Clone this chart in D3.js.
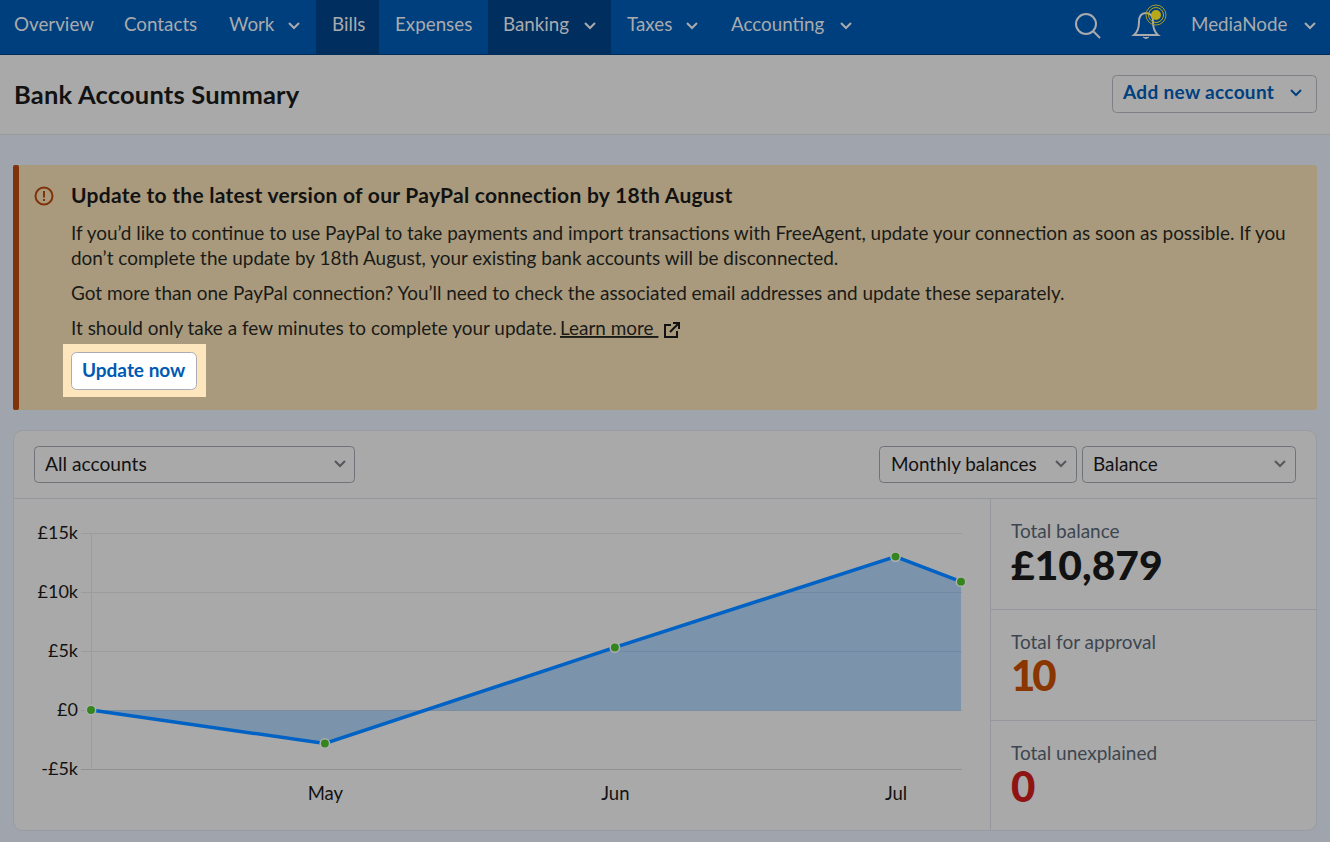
<!DOCTYPE html>
<html>
<head>
<meta charset="utf-8">
<script src="https://cdn.jsdelivr.net/npm/d3@7"></script>
<style>
  html, body { margin: 0; padding: 0; background: #a0a5ad; overflow: hidden; }
  svg { display: block; }
  text { font-family: Lato, sans-serif; white-space: pre; }
</style>
</head>
<body>
<script>
// chart data
var dates = ["2021-04-06", "2021-05-01", "2021-06-01", "2021-07-01", "2021-07-08"];
var balances = [0, -2840, 5300, 13000, 10879];
var yTicks = [-5000, 0, 5000, 10000, 15000];
var yTickLabels = ["-£5k", "£0", "£5k", "£10k", "£15k"];
var xTicks = ["2021-05-01", "2021-06-01", "2021-07-01"];
var xTickLabels = ["May", "Jun", "Jul"];

// page text
var navLabels = ["Overview", "Contacts", "Work", "Bills", "Expenses", "Banking", "Taxes", "Accounting"];
var bannerLines = [
  "If you’d like to continue to use PayPal to take payments and import transactions with FreeAgent, update your connection as soon as possible. If you",
  "don’t complete the update by 18th August, your existing bank accounts will be disconnected.",
  "Got more than one PayPal connection? You’ll need to check the associated email addresses and update these separately.",
  "It should only take a few minutes to complete your update."
];
var statLabels = ["Total balance", "Total for approval", "Total unexplained"];
var statValues = ["£10,879", "10", "0"];

var width = 1330, height = 842;
var parse = d3.utcParse("%Y-%m-%d");

var svg = d3.select("body").append("svg")
  .attr("width", width)
  .attr("height", height);

function rect(x, y, w, h, fill, r, stroke) {
  return svg.append("rect")
    .attr("x", x).attr("y", y).attr("width", w).attr("height", h)
    .attr("rx", r || 0)
    .attr("fill", fill)
    .attr("stroke", stroke || "none");
}
function label(x, y, s, size, fill, weight, anchor) {
  return svg.append("text")
    .attr("x", x).attr("y", y)
    .attr("font-size", size)
    .attr("font-weight", weight || 400)
    .attr("fill", fill)
    .attr("text-anchor", anchor || "start")
    .text(s);
}
function chevron(cx, cy, color, w) {
  svg.append("path")
    .attr("d", "M" + (cx - 5) + "," + (cy - 3) + "L" + cx + "," + (cy + 2) + "L" + (cx + 5) + "," + (cy - 3))
    .attr("fill", "none")
    .attr("stroke", color)
    .attr("stroke-width", w || 2);
}
function hline(x1, x2, y, color) {
  svg.append("line").attr("x1", x1).attr("x2", x2).attr("y1", y).attr("y2", y).attr("stroke", color);
}
function vline(x, y1, y2, color) {
  svg.append("line").attr("x1", x).attr("x2", x).attr("y1", y1).attr("y2", y2).attr("stroke", color);
}

// top nav
rect(0, 0, width, 55, "#003f7d");
rect(316, 0, 63, 55, "#002f5f");
rect(488, 0, 123, 55, "#002f5f");
hline(0, width, 54.5, "#002c58");
var navX = [14, 124, 229, 332, 395, 503, 627, 731];
var navChevron = [null, null, 294, null, null, 590, 692, 846];
var navText = "#a9abae";
navLabels.forEach(function(d, i) {
  label(navX[i], 31, d, 18.8, navText);
  if (navChevron[i]) chevron(navChevron[i], 26, navText);
});
label(1191, 31, "MediaNode", 18.8, navText);
chevron(1310, 26, navText);

// search icon
svg.append("circle").attr("cx", 1086).attr("cy", 24).attr("r", 10)
  .attr("fill", "none").attr("stroke", navText).attr("stroke-width", 2);
svg.append("line").attr("x1", 1093).attr("y1", 31).attr("x2", 1100).attr("y2", 38)
  .attr("stroke", navText).attr("stroke-width", 2);

// bell icon
svg.append("path")
  .attr("d", "M1134,35 Q1139,31 1139,22 Q1139,13 1146,13 Q1153,13 1153,22 Q1153,31 1158,35 Z")
  .attr("fill", "#003f7d").attr("stroke", navText).attr("stroke-width", 2);
svg.append("path").attr("d", "M1143,37 Q1146,40 1149,37").attr("fill", navText).attr("stroke", navText);
svg.append("circle").attr("cx", 1156).attr("cy", 15).attr("r", 5).attr("fill", "#b9a817");
svg.append("circle").attr("cx", 1156).attr("cy", 15).attr("r", 7.5).attr("fill", "none").attr("stroke", "#b9a817");
svg.append("circle").attr("cx", 1156).attr("cy", 15).attr("r", 10).attr("fill", "none").attr("stroke", "#a39a2c");

// title bar
rect(0, 55, width, 80, "#a9a9a9");
hline(0, width, 134.5, "#9a9a9a");
label(14, 104, "Bank Accounts Summary", 25.5, "#121212", 700).attr("letter-spacing", 0.2);
rect(1112.5, 75.5, 204, 37, "#a9a9a9", 4, "#7d8186");
label(1123, 99, "Add new account", 19, "#00407f", 700).attr("letter-spacing", 0.33);
chevron(1296, 93, "#00407f");

// banner
rect(13, 165, 1304, 245, "#a99a7e", 3);
rect(13, 165, 6, 245, "#803208", 2);
svg.append("circle").attr("cx", 44).attr("cy", 196).attr("r", 8.5)
  .attr("fill", "none").attr("stroke", "#803208").attr("stroke-width", 2);
rect(43, 191, 2, 6.5, "#803208");
rect(43, 199, 2, 2, "#803208");
label(71, 203, "Update to the latest version of our PayPal connection by 18th August", 21, "#121212", 700)
  .attr("letter-spacing", 0.27);
[240, 265, 300, 335].forEach(function(y, i) {
  label(71, y, bannerLines[i], 18.95, "#1a1a17");
});
label(560, 335, "Learn more ", 18.95, "#1a1a17").attr("text-decoration", "underline");

// external link icon
svg.append("path")
  .attr("d", "M671,325H665V337H677V331M670,332L678,324M673,323H679V329")
  .attr("fill", "none").attr("stroke", "#121212").attr("stroke-width", 2);

// update button
rect(63, 344, 143, 53, "#fde6bd");
rect(71.5, 352.5, 125, 37, "#fff", 5, "#a9adb3");
label(82, 377, "Update now", 19, "#0059b3", 700);

// chart panel
rect(13.5, 430.5, 1303, 400, "#a9a9a9", 9, "#989ca2");
hline(14, 1316, 498.5, "#94989d");
vline(990.5, 499, 830, "#94989d");
hline(991, 1316, 609.5, "#94989d");
hline(991, 1316, 720.5, "#94989d");

// selects
rect(34.5, 446.5, 320, 36, "#a9a9a9", 4, "#6f7378");
label(45, 471, "All accounts", 19.2, "#121212");
chevron(340, 464, "#54585d");
rect(879.5, 446.5, 197, 36, "#a9a9a9", 4, "#6f7378");
label(891, 471, "Monthly balances", 18.9, "#121212");
chevron(1061, 464, "#54585d");
rect(1082.5, 446.5, 213, 36, "#a9a9a9", 4, "#6f7378");
label(1093, 471, "Balance", 18.9, "#121212");
chevron(1280, 464, "#54585d");

// scales
var x = d3.scaleUtc()
  .domain([parse(dates[0]), parse(dates[dates.length - 1])])
  .range([91, 961]);
var y = d3.scaleLinear()
  .domain([-5000, 15000])
  .range([769, 533]);

var points = dates.map(function(d, i) { return { date: parse(d), value: balances[i] }; });

// gridlines + y axis
var yAxis = d3.axisLeft(y)
  .tickValues(yTicks)
  .tickFormat(function(d, i) { return yTickLabels[i]; })
  .tickSize(-(962 - 81))
  .tickPadding(3);
var yG = svg.append("g")
  .attr("transform", "translate(81,0)")
  .call(yAxis);
yG.select(".domain").remove();
yG.selectAll(".tick line").attr("stroke", function(d) { return d == -5000 ? "#8f9194" : "#9b9c9e"; });
yG.selectAll(".tick text")
  .attr("fill", "#121212")
  .attr("font-size", 18)
  .attr("font-family", "Lato, sans-serif");
vline(91.5, 533.5, 769.5, "#9b9c9e");

// area
var area = d3.area()
  .x(function(d) { return x(d.date); })
  .y0(y(0))
  .y1(function(d) { return y(d.value); });
svg.append("path")
  .datum(points)
  .attr("d", area)
  .attr("fill", "#0059b3")
  .attr("fill-opacity", 0.27);
hline(91, 961, y(0) + 0.5, "#7c8d9f");

// line
var line = d3.line()
  .x(function(d) { return x(d.date); })
  .y(function(d) { return y(d.value); });
svg.append("path")
  .datum(points)
  .attr("d", line)
  .attr("fill", "none")
  .attr("stroke", "#0062c4")
  .attr("stroke-width", 3.5);

// points
svg.selectAll(".pt")
  .data(points)
  .enter()
  .append("circle")
  .attr("class", "pt")
  .attr("cx", function(d) { return x(d.date); })
  .attr("cy", function(d) { return y(d.value); })
  .attr("r", 4.7)
  .attr("fill", "#35851f")
  .attr("stroke", "#b0b0b0")
  .attr("stroke-width", 1.5);

// x axis
var xAxis = d3.axisBottom(x)
  .tickValues(xTicks.map(parse))
  .tickFormat(function(d, i) { return xTickLabels[i]; })
  .tickSize(0)
  .tickPadding(18);
var xG = svg.append("g")
  .attr("transform", "translate(0," + y(-5000) + ")")
  .call(xAxis);
xG.select(".domain").remove();
xG.selectAll(".tick text")
  .attr("fill", "#121212")
  .attr("font-size", 18.5)
  .attr("font-family", "Lato, sans-serif");

// stats
var statColors = ["#121212", "#8a3600", "#8f1414"];
var statSpacing = [0, -3, 0];
[538, 649, 760].forEach(function(yy, i) {
  label(1011, yy, statLabels[i], 19, "#3d4650");
  label(1011, yy + 42, statValues[i], i == 0 ? 40.8 : 42, statColors[i], 900)
    .attr("letter-spacing", statSpacing[i]);
});
</script>
</body>
</html>
